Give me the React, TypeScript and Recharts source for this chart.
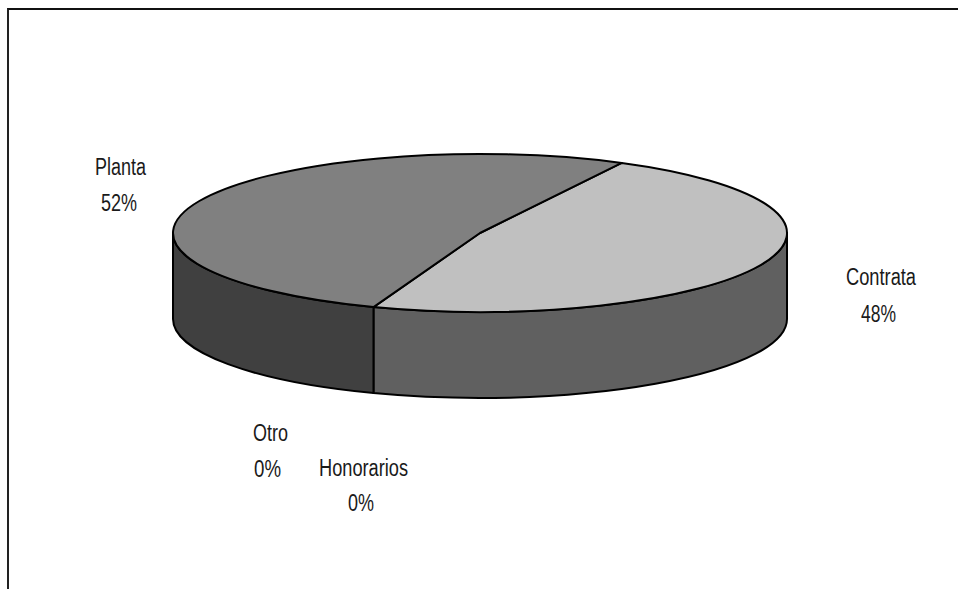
import React from "react";
import { PieChart, Pie } from "recharts";

const names = ["Contrata", "Honorarios", "Otro", "Planta"];
const shares = [48, 0, 0, 52];
const data = names.map((name, i) => ({ name, value: shares[i] }));

const topColors: Record<string, string> = { Contrata: "#c0c0c0", Planta: "#808080", Honorarios: "#c0c0c0", Otro: "#808080" };
const sideColors: Record<string, string> = { Contrata: "#606060", Planta: "#404040", Honorarios: "#606060", Otro: "#404040" };

const labelPlace: Record<string, { x: number; y: number; w: number; px: number; py: number; pw: number }> = {
  Planta: { x: 120.5, y: 175, w: 51, px: 119, py: 211, pw: 36 },
  Contrata: { x: 881, y: 285, w: 70, px: 878.5, py: 322, pw: 35 },
  Otro: { x: 270.5, y: 441, w: 35, px: 267.5, py: 477, pw: 27 },
  Honorarios: { x: 363.5, y: 476, w: 89, px: 361, py: 511, pw: 26 },
};

const FLAT = 79 / 307;
const DEPTH = 86;
const rad = (a: number) => (a * Math.PI) / 180;

function Slice(props: any) {
  const { cx, cy, outerRadius: r, startAngle: s, endAngle: e, name } = props;
  if (Math.abs(s - e) < 0.01) return <g />;
  const ry = r * FLAT;
  const px = (a: number) => cx + r * Math.cos(rad(a));
  const py = (a: number) => cy - ry * Math.sin(rad(a));
  const large = Math.abs(s - e) > 180 ? 1 : 0;
  const top = `M${cx},${cy} L${px(s)},${py(s)} A${r},${ry} 0 ${large} 1 ${px(e)},${py(e)} Z`;
  const hi = Math.min(s, 0);
  const lo = Math.max(e, -180);
  const wall =
    hi > lo
      ? `M${px(hi)},${py(hi)} A${r},${ry} 0 0 1 ${px(lo)},${py(lo)} L${px(lo)},${py(lo) + DEPTH} A${r},${ry} 0 0 0 ${px(hi)},${py(hi) + DEPTH} Z`
      : null;
  return (
    <g>
      {wall && <path d={wall} fill={sideColors[name]} stroke="#000" strokeWidth={2} strokeLinejoin="round" />}
      <path d={top} fill={topColors[name]} stroke="#000" strokeWidth={2} strokeLinejoin="round" />
    </g>
  );
}

function SliceLabel(props: any) {
  const { name, percent } = props;
  const p = labelPlace[name];
  const font = { fontFamily: "'Liberation Sans',Arial,sans-serif", fontSize: 23, fill: "#1a1a1a", lengthAdjust: "spacingAndGlyphs" as const };
  return (
    <g>
      <text x={p.x} y={p.y} textAnchor="middle" textLength={p.w} {...font}>{name}</text>
      <text x={p.px} y={p.py} textAnchor="middle" textLength={p.pw} {...font}>
        {`${Math.round(percent * 100)}%`}
      </text>
    </g>
  );
}

export default function App() {
  return (
    <div style={{ position: "absolute", left: 0, top: 0, width: 958, height: 589, background: "#fff", overflow: "hidden" }}>
      <div style={{ position: "absolute", left: 7, top: 8, width: 951, height: 581, borderLeft: "2px solid #222", borderTop: "2px solid #111", boxSizing: "border-box" }} />
      <div style={{ position: "absolute", left: 0, top: 0 }}>
        <PieChart width={958} height={589} margin={{ top: 0, right: 0, bottom: 0, left: 0 }}>
          <Pie
            data={data}
            dataKey="value"
            nameKey="name"
            cx={480}
            cy={233}
            outerRadius={307}
            startAngle={62.5}
            endAngle={-297.5}
            stroke="none"
            shape={Slice}
            label={SliceLabel}
            labelLine={false}
            isAnimationActive={false}
          />
        </PieChart>
      </div>
    </div>
  );
}
